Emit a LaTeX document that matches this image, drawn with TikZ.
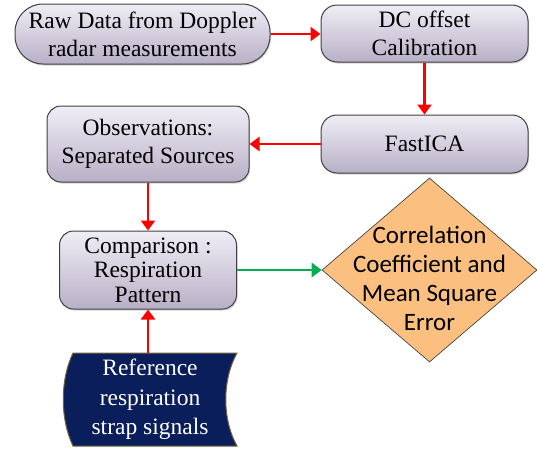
\documentclass[tikz,border=0pt]{standalone}
\usepackage{fontspec}
\setmainfont{Liberation Serif}
\newfontfamily\diafont{Carlito}
\usetikzlibrary{arrows.meta,shapes.geometric,shadows}
\definecolor{boxtop}{RGB}{240,237,246}
\definecolor{boxbot}{RGB}{184,176,198}
\definecolor{orangefill}{RGB}{251,191,128}
\definecolor{navyfill}{RGB}{10,30,92}
\definecolor{navyedge}{RGB}{120,100,60}
\definecolor{redline}{RGB}{255,0,0}
\definecolor{greenline}{RGB}{0,176,80}
\begin{document}
\begin{tikzpicture}[x=1pt,y=-1pt,
  box/.style={draw=black!75, line width=1pt, top color=boxtop, bottom color=boxbot,
    align=center, inner sep=0pt, font=\fontsize{23.5}{28}\selectfont,
    drop shadow={opacity=0.35, shadow xshift=1pt, shadow yshift=-1.5pt}},
  redarrow/.style={draw=redline, line width=2.8pt, -{Triangle[length=10pt,width=14pt]}},
  greenarrow/.style={draw=greenline, line width=2.8pt, -{Triangle[length=10pt,width=14pt]}}
]
\useasboundingbox (0,0) rectangle (537,448);

\node[box, rounded corners=28pt, minimum width=255pt, minimum height=60pt] (raw) at (142.5,34)
  {Raw Data from Doppler\\radar measurements};
\node[box, rounded corners=16pt, minimum width=207pt, minimum height=57pt] (dc) at (424.5,33.5)
  {DC offset\\Calibration};
\node[box, rounded corners=16pt, minimum width=207pt, minimum height=58pt] (fast) at (424.5,144)
  {FastICA};
\node[box, rounded corners=14pt, minimum width=202pt, minimum height=76pt] (obs) at (148,144)
  {Observations:\\Separated Sources};
\node[box, rounded corners=14pt, minimum width=177pt, minimum height=78pt,
  font=\fontsize{23.5}{24.5}\selectfont] (comp) at (148,270)
  {Comparison :\\Respiration\\Pattern};

\node[diamond, draw=black!80, line width=0.6pt, fill=orangefill, inner sep=0pt,
  minimum width=215pt, minimum height=184pt] (dia) at (429.5,270) {};
\node[align=center, font=\diafont\fontsize{25}{29}\selectfont] (diatext) at ([yshift=-8pt]dia.center)
  {Correlation\\Coefficient and\\Mean Square\\Error};

% stored data shape
\node[inner sep=0pt, minimum width=164pt, minimum height=93pt] (ref) at (150,399.5) {};
\fill[navyfill, draw=navyedge, line width=1pt]
  (73,353) -- (237,353) .. controls (222,380) and (222,419) .. (237,446)
  -- (73,446) .. controls (60,419) and (60,380) .. (73,353) -- cycle;
\node[align=center, text=white, inner sep=0pt,
  font=\fontsize{23.5}{29.5}\selectfont] (reftext) at (ref.center)
  {Reference\\respiration\\strap signals};

\draw[redarrow] (raw.east) -- (raw.east -| dc.west);
\draw[redarrow] (dc.south) -- (fast.north);
\draw[redarrow] (fast.west) -- (obs.east);
\draw[redarrow] (obs.south) -- (comp.north);
\draw[redarrow] (comp.south |- ref.north) -- (comp.south);
\draw[greenarrow] (comp.east) -- (dia.west);
\end{tikzpicture}
\end{document}
